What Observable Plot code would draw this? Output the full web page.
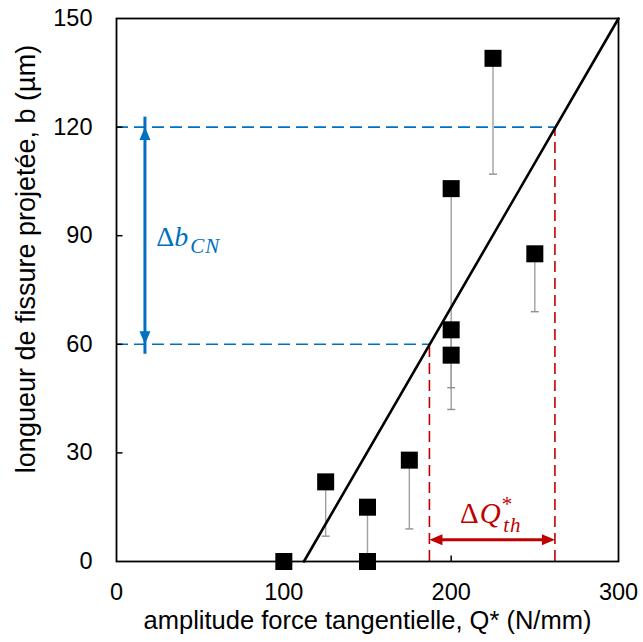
<!DOCTYPE html>
<html><head><meta charset="utf-8">
<script src="https://cdn.jsdelivr.net/npm/d3@7"></script>
<script src="https://cdn.jsdelivr.net/npm/@observablehq/plot@0.6"></script>
<style>body{margin:0;background:#fff}</style>
</head><body><div id="chart"></div>
<script>
// Measured points
const Q = [100, 125, 150, 150, 175, 200, 200, 200, 225, 250];
const B = [0, 22, 15, 0, 28, 103, 64, 57, 139, 85];
// Error bars (lower side only)
const errQ = [125, 150, 175, 200, 200, 225, 250];
const errTop = [22, 15, 28, 103, 64, 139, 85];
const errLow = [7, 0, 9, 48, 42, 107, 69];
// Fitted threshold line
const fitQ = [112, 300];
const fitB = [0, 150];
// Construction levels
const bLevels = [60, 120];
const QthLevels = [187, 262];
const arrowBQ = 17;   // Q position of Δb arrow
const arrowQB = 6;    // b position of ΔQ arrow
// Ticks
const xTicks = [0, 100, 200, 300];
const yTicks = [0, 30, 60, 90, 120, 150];
const xLabel = "amplitude force tangentielle, Q* (N/mm)";
const yLabel = "longueur de fissure projetée, b (µm)";

const BLUE = "#0070C0", RED = "#C00000";

const points = Q.map((q, i) => ({q, b: B[i]}));
const errs = errQ.map((q, i) => ({q, top: errTop[i], low: errLow[i]}));
const fit = fitQ.map((q, i) => ({q, b: fitB[i]}));
const levels = bLevels.map((b, i) => ({b, q: QthLevels[i]}));

const capSym = {draw(c) { c.moveTo(-4, 0); c.lineTo(4, 0); }};
const xTickSym = {draw(c) { c.moveTo(0, 0); c.lineTo(0, -6); }};
const yTickSym = {draw(c) { c.moveTo(0, 0); c.lineTo(6, 0); }};
const headSym = {draw(c) { c.moveTo(0, 0); c.lineTo(-5.5, 13); c.lineTo(5.5, 13); c.closePath(); }};

const plot = Plot.plot({
  width: 643, height: 642,
  marginLeft: 116, marginRight: 25, marginTop: 18, marginBottom: 81,
  style: {fontFamily: "'Liberation Sans', Arial, sans-serif", color: "#000", background: "#fff", overflow: "visible"},
  x: {domain: [0, 300]},
  y: {domain: [0, 150]},
  marks: [
    Plot.axisX({ticks: xTicks, tickSize: 0, tickPadding: 22, fontSize: 23.5, label: null, tickFormat: d => d}),
    Plot.axisY({ticks: yTicks, tickSize: 0, tickPadding: 24, fontSize: 23.5, label: null, tickFormat: d => d}),
    Plot.text([xLabel], {frameAnchor: "bottom", dy: 67, fontSize: 25.5, textAnchor: "middle", text: d => d}),
    Plot.text([yLabel], {frameAnchor: "left", dx: -90, dy: -31, rotate: -90, textAnchor: "middle", fontSize: 27, text: d => d}),
    // dashed construction lines
    Plot.ruleY(levels, {y: "b", x1: 0, x2: "q", stroke: BLUE, strokeWidth: 1.6, strokeDasharray: "12,6"}),
    Plot.ruleX(levels, {x: "q", y1: 0, y2: "b", stroke: RED, strokeWidth: 1.6, strokeDasharray: "11,6"}),
    // error bars
    Plot.ruleX(errs, {x: "q", y1: "low", y2: "top", stroke: "#a0a0a0", strokeWidth: 1.4}),
    Plot.dot(errs, {x: "q", y: "low", symbol: capSym, r: 4, stroke: "#909090", strokeWidth: 1.4}),
    // fit line
    Plot.line(fit, {x: "q", y: "b", stroke: "#000", strokeWidth: 2.6}),
    // points
    Plot.dot(points, {x: "q", y: "b", symbol: "square", r: 9.6, fill: "#000", stroke: null}),
    // Δb arrow
    Plot.ruleX([arrowBQ], {x: d => d, y1: bLevels[0], y2: bLevels[1], stroke: BLUE, strokeWidth: 3, insetTop: 10, insetBottom: 10}),
    Plot.dot([bLevels[1]], {x: arrowBQ, y: d => d, symbol: headSym, r: 5, fill: BLUE, stroke: null, rotate: 0}),
    Plot.dot([bLevels[0]], {x: arrowBQ, y: d => d, symbol: headSym, r: 5, fill: BLUE, stroke: null, rotate: 180}),
    // ΔQ arrow
    Plot.ruleY([arrowQB], {y: d => d, x1: QthLevels[0], x2: QthLevels[1], stroke: RED, strokeWidth: 3, insetLeft: 10, insetRight: 10}),
    Plot.dot([QthLevels[0]], {y: arrowQB, x: d => d, symbol: headSym, r: 5, fill: RED, stroke: null, rotate: -90}),
    Plot.dot([QthLevels[1]], {y: arrowQB, x: d => d, symbol: headSym, r: 5, fill: RED, stroke: null, rotate: 90}),
    // ticks inside
    Plot.dot(xTicks.slice(1, -1), {x: d => d, y: 0, symbol: xTickSym, r: 4, stroke: "#000", strokeWidth: 1.5}),
    Plot.dot(yTicks.slice(1, -1), {y: d => d, x: 0, symbol: yTickSym, r: 4, stroke: "#000", strokeWidth: 1.5}),
    Plot.frame({stroke: "#000", strokeWidth: 1.8})
  ]
});

// math-style annotations positioned with the plot's scales
const sx = plot.scale("x"), sy = plot.scale("y");
const svg = d3.select(plot);
const mathFont = "'Liberation Serif', 'DejaVu Serif', serif";
const t1 = svg.append("text")
  .attr("x", sx.apply(24)).attr("y", sy.apply(87)).attr("text-anchor", "start")
  .attr("fill", BLUE).attr("font-family", mathFont).attr("font-size", 28);
t1.append("tspan").text("Δ");
t1.append("tspan").attr("font-style", "italic").text("b");
t1.append("tspan").attr("font-style", "italic").attr("font-size", 21).attr("dy", 7).attr("dx", 2).attr("letter-spacing", 1).text("CN");

const t2 = svg.append("text")
  .attr("x", sx.apply(205.6)).attr("y", sy.apply(10.5)).attr("text-anchor", "start")
  .attr("fill", RED).attr("font-family", mathFont).attr("font-size", 29);
t2.append("tspan").text("Δ");
t2.append("tspan").attr("font-style", "italic").attr("dx", 1).text("Q");
t2.append("tspan").attr("font-size", 21).attr("dx", 1).attr("dy", -12).text("*");
t2.append("tspan").attr("font-style", "italic").attr("font-size", 21).attr("dx", -9).attr("dy", 21).attr("letter-spacing", 1).text("th");

document.getElementById("chart").appendChild(plot);
</script>
</body></html>
